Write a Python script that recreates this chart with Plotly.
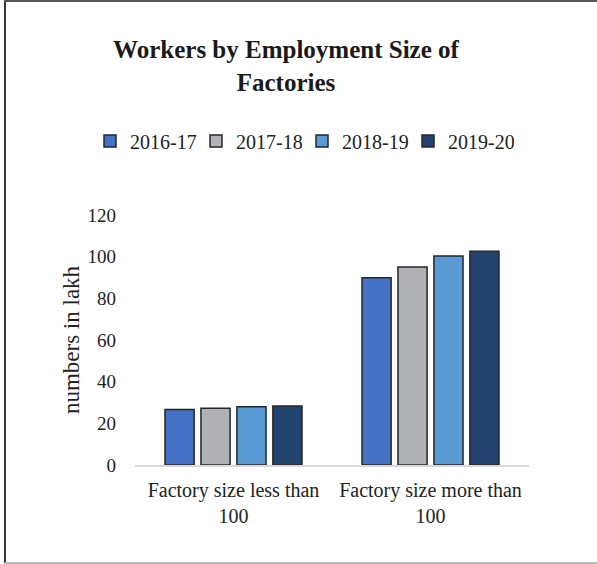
import plotly.graph_objects as go

categories = ["Factory size less than<br>100", "Factory size more than<br>100"]
series_names = ["2016-17", "2017-18", "2018-19", "2019-20"]
values_2016_17 = [26.7, 89.9]
values_2017_18 = [27.2, 95.1]
values_2018_19 = [28.0, 100.3]
values_2019_20 = [28.3, 102.6]
y_ticks = [0, 20, 40, 60, 80, 100, 120]

series_values = [values_2016_17, values_2017_18, values_2018_19, values_2019_20]
colors = ["#4472C4", "#B0B1B4", "#5B9BD5", "#22426F"]

W, H = 597, 564
L, R, T, B = 135, 68, 215, 99
pw = W - L - R
ph = H - T - B

def px_x(x):
    return (x - L) / pw

def px_y(y):
    return (H - B - y) / ph

fig = go.Figure()
for name, vals, col in zip(series_names, series_values, colors):
    fig.add_trace(go.Bar(
        x=categories, y=vals, name=name,
        marker=dict(color=col, line=dict(color="#262626", width=1.5)),
    ))

font_family = "Liberation Serif"

fig.update_layout(
    width=W, height=H,
    margin=dict(l=L, r=R, t=T, b=B),
    paper_bgcolor="white", plot_bgcolor="white",
    font=dict(family=font_family, color="#222222"),
    barmode="group", bargap=0.27, bargroupgap=0.19,
    title=dict(
        text="<b>Workers by Employment Size of<br>Factories</b>",
        x=286 / W, xanchor="center", xref="container",
        y=1 - 58 / H, yanchor="top", yref="container",
        font=dict(size=25, family=font_family, color="#1a1a1a"),
    ),
    legend=dict(
        orientation="h", x=px_x(90), xanchor="left",
        y=px_y(141), yanchor="middle",
        font=dict(size=20, family=font_family, color="#222222"),
        itemwidth=30, traceorder="normal",
        entrywidth=61, entrywidthmode="pixels",
    ),
    showlegend=True,
    xaxis=dict(
        showline=True, linecolor="#D9D9D9", linewidth=1.5,
        showgrid=False, ticks="", ticklabelstandoff=6,
        tickfont=dict(size=20, family=font_family, color="#222222"),
    ),
    yaxis=dict(
        range=[0, 120], tickvals=y_ticks, showgrid=False, zeroline=False,
        showline=False, ticks="", ticklabelstandoff=18,
        tickfont=dict(size=19, family=font_family, color="#222222"),
        title=dict(text="numbers in lakh", standoff=1,
                   font=dict(size=23, family=font_family, color="#222222")),
    ),
    shapes=[
        dict(type="line", xref="paper", yref="paper",
             x0=px_x(5), x1=px_x(5), y0=px_y(0), y1=px_y(563),
             line=dict(color="#3a3a3a", width=2)),
        dict(type="rect", xref="paper", yref="paper",
             x0=px_x(4), x1=px_x(597), y0=px_y(0), y1=px_y(2),
             fillcolor="#555555", line=dict(width=0)),
        dict(type="line", xref="paper", yref="paper",
             x0=px_x(5), x1=px_x(597), y0=px_y(563), y1=px_y(563),
             line=dict(color="#BBBBBB", width=2)),
    ],
)

fig.write_html("out.html", config={"displayModeBar": False},
               post_script="document.body.style.margin='0px';document.body.style.overflow='hidden';")
